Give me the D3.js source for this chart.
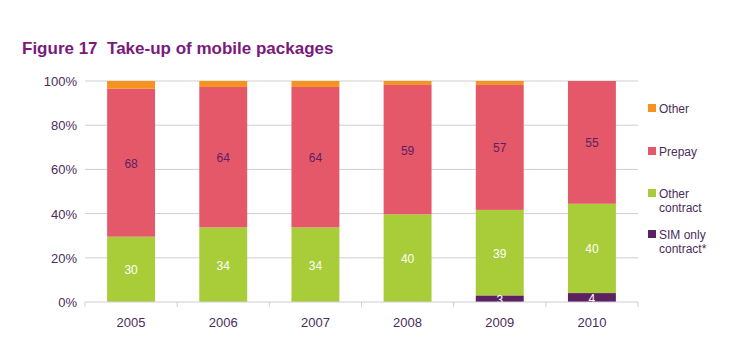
<!DOCTYPE html>
<html>
<head>
<meta charset="utf-8">
<script src="https://cdn.jsdelivr.net/npm/d3@7"></script>
<style>
  body { margin: 0; background: #fff; }
  svg text { font-family: "Liberation Sans", Arial, sans-serif; }
</style>
</head>
<body>
<svg id="chart" width="742" height="350"></svg>
<script>
// ---- data ----
var years = ["2005", "2006", "2007", "2008", "2009", "2010"];
var simOnly = [0, 0, 0, 0, 3, 4];
var otherContract = [30, 34, 34, 40, 39, 40];
var prepay = [68, 64, 64, 59, 57, 55];
var other = [3.5, 2.7, 2.7, 1.8, 1.8, 0];
var yTicks = [0, 0.2, 0.4, 0.6, 0.8, 1];

var seriesKeys = ["sim", "contract", "prepay", "other"];
var seriesNames = { sim: "SIM only\ncontract*", contract: "Other\ncontract", prepay: "Prepay", other: "Other" };
var seriesColours = { sim: "#5b2163", contract: "#a8cd38", prepay: "#e5586a", other: "#f6921e" };
var labelColours = { sim: "#ffffff", contract: "#ffffff", prepay: "#5b2163", other: "none" };

var rows = years.map(function (y, i) {
  return { year: y, sim: simOnly[i], contract: otherContract[i], prepay: prepay[i], other: other[i] };
});

// ---- layout ----
var plotLeft = 85, plotRight = 638, plotTop = 81, plotBottom = 302;
var textColour = "#4b2d5c";

var svg = d3.select("#chart");

svg.append("text")
  .attr("x", 22).attr("y", 54)
  .style("font-size", "17px").style("font-weight", "bold")
  .style("fill", "#7a1a7b")
  .text("Figure 17\u00a0 Take-up of mobile packages");

var xScale = d3.scaleBand().domain(years).range([plotLeft, plotRight]).paddingInner(0.48).paddingOuter(0.24);
var yScale = d3.scaleLinear().domain([0, 1]).range([plotBottom, plotTop]);

var stacked = d3.stack().keys(seriesKeys).offset(d3.stackOffsetExpand)(rows);

// gridlines
svg.append("g").selectAll("line")
  .data(yTicks.filter(function (t) { return t > 0; }))
  .enter().append("line")
  .attr("x1", plotLeft).attr("x2", plotRight)
  .attr("y1", function (d) { return yScale(d); })
  .attr("y2", function (d) { return yScale(d); })
  .style("stroke", "#cfcfcf").style("stroke-width", 1);

// y axis labels
svg.append("g").selectAll("text")
  .data(yTicks)
  .enter().append("text")
  .attr("x", 77)
  .attr("y", function (d) { return yScale(d) + 5; })
  .attr("text-anchor", "end")
  .style("font-size", "13px").style("fill", textColour)
  .text(function (d) { return Math.round(d * 100) + "%"; });

// bars
var layers = svg.append("g").selectAll("g")
  .data(stacked)
  .enter().append("g")
  .style("fill", function (d) { return seriesColours[d.key]; });

layers.selectAll("rect")
  .data(function (d) { return d; })
  .enter().append("rect")
  .attr("x", function (d) { return xScale(d.data.year); })
  .attr("width", xScale.bandwidth())
  .attr("y", function (d) { return yScale(d[1]); })
  .attr("height", function (d) { return yScale(d[0]) - yScale(d[1]); });

// value labels
stacked.forEach(function (layer) {
  if (labelColours[layer.key] === "none") return;
  svg.append("g").selectAll("text")
    .data(layer.filter(function (d) { return d.data[layer.key] > 0; }))
    .enter().append("text")
    .attr("x", function (d) { return xScale(d.data.year) + xScale.bandwidth() / 2; })
    .attr("y", function (d) { return (yScale(d[0]) + yScale(d[1])) / 2 + 5; })
    .attr("text-anchor", "middle")
    .style("font-size", "12px")
    .style("fill", labelColours[layer.key])
    .text(function (d) { return d.data[layer.key]; });
});

// x axis
var xAxis = svg.append("g").attr("transform", "translate(0," + plotBottom + ")");
xAxis.append("line").attr("x1", plotLeft).attr("x2", plotRight).style("stroke", "#cfcfcf");
var bounds = d3.range(years.length + 1).map(function (i) { return plotLeft + i * (plotRight - plotLeft) / years.length; });
xAxis.selectAll("line.tick")
  .data(bounds)
  .enter().append("line")
  .attr("class", "tick")
  .attr("x1", function (d) { return d; }).attr("x2", function (d) { return d; })
  .attr("y1", 0).attr("y2", 5)
  .style("stroke", "#cfcfcf");
xAxis.selectAll("text")
  .data(years)
  .enter().append("text")
  .attr("x", function (d) { return xScale(d) + xScale.bandwidth() / 2; })
  .attr("y", 25)
  .attr("text-anchor", "middle")
  .style("font-size", "13px").style("fill", textColour)
  .text(function (d) { return d; });

// legend
var legendKeys = ["other", "prepay", "contract", "sim"];
var legendY = [109, 152, 194, 235];
var legend = svg.append("g").selectAll("g")
  .data(legendKeys)
  .enter().append("g")
  .attr("transform", function (d, i) { return "translate(648," + legendY[i] + ")"; });
legend.append("rect")
  .attr("x", 0).attr("y", -5).attr("width", 8).attr("height", 8)
  .style("fill", function (d) { return seriesColours[d]; });
legend.append("text")
  .style("font-size", "12px").style("fill", textColour)
  .selectAll("tspan")
  .data(function (d) { return seriesNames[d].split("\n"); })
  .enter().append("tspan")
  .attr("x", 11)
  .attr("y", function (d, i) { return 4 + i * 13.5; })
  .text(function (d) { return d; });
</script>
</body>
</html>
